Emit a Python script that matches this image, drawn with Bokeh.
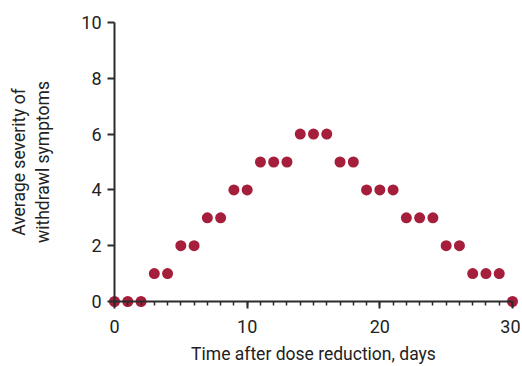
from bokeh.plotting import figure
from bokeh.models import Range1d, SingleIntervalTicker, ColumnDataSource
from bokeh.embed import file_html
from bokeh.resources import INLINE

days = list(range(0, 31))
severity = [0, 0, 0, 1, 1, 2, 2, 3, 3, 4, 4, 5, 5, 5, 6, 6, 6, 5, 5, 4, 4, 4, 3, 3, 3, 2, 2, 1, 1, 1, 0]

x_title = "Time after dose reduction, days"
y_title = "Average severity of\nwithdrawl symptoms"

FONT = "Roboto"
AXIS_COLOR = "#2b2b2b"
DOT_COLOR = "#A51E3C"

W, H = 520, 364
# frame fills the whole figure; axes sit at data 0 through fixed_location
p = figure(width=W, height=H, output_backend="svg", toolbar_location=None,
           x_range=Range1d(-8.593, 30.603), y_range=Range1d(-2.258, 10.789),
           min_border=0)
p.outline_line_color = None
p.grid.grid_line_color = None
p.background_fill_color = "white"

src = ColumnDataSource(dict(x=days, y=severity))
p.scatter("x", "y", source=src, size=11, fill_color=DOT_COLOR, line_color=None)

xa = p.xaxis[0]
xa.ticker = SingleIntervalTicker(interval=10, num_minor_ticks=10)
xa.bounds = (0, 30)
xa.fixed_location = 0
xa.axis_label = x_title

ya = p.yaxis[0]
ya.ticker = SingleIntervalTicker(interval=2, num_minor_ticks=0)
ya.bounds = (0, 10)
ya.fixed_location = 0
ya.axis_label = y_title

for ax in (xa, ya):
    ax.axis_line_color = AXIS_COLOR
    ax.axis_line_width = 2
    ax.major_tick_line_color = AXIS_COLOR
    ax.major_tick_line_width = 2
    ax.minor_tick_line_color = AXIS_COLOR
    ax.minor_tick_line_width = 1.5
    ax.major_tick_in = 0
    ax.major_tick_out = 7
    ax.minor_tick_in = 0
    ax.minor_tick_out = 4
    ax.major_label_text_font = FONT
    ax.major_label_text_font_size = "18px"
    ax.major_label_text_color = "#222222"
    ax.axis_label_text_font = FONT
    ax.axis_label_text_font_size = "17.5px"
    ax.axis_label_text_font_style = "normal"
    ax.axis_label_text_color = "#222222"

xa.major_label_standoff = 11
xa.axis_label_standoff = 8
ya.major_label_standoff = 6
ya.axis_label_standoff = 25
ya.axis_label_text_align = "center"

open("out.html", "w").write(file_html(p, INLINE))
